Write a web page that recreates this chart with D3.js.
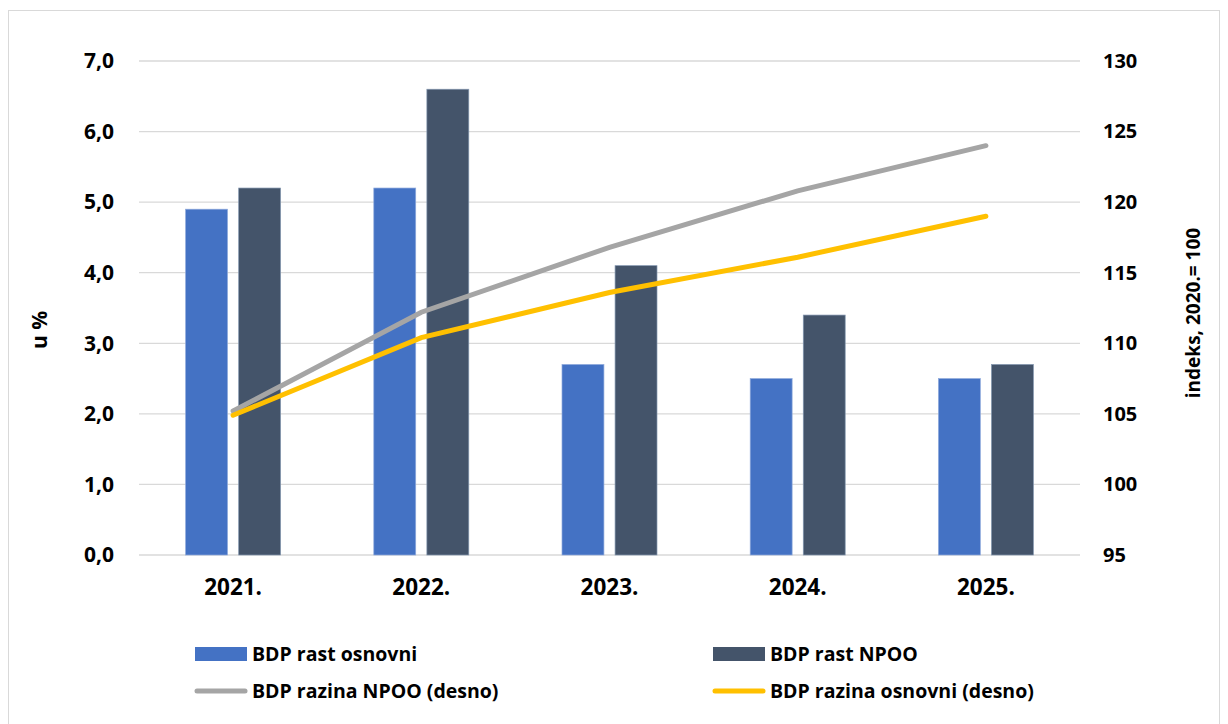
<!DOCTYPE html>
<html>
<head>
<meta charset="utf-8">
<script src="https://cdn.jsdelivr.net/npm/d3@7"></script>
<style>
  body { margin: 0; background: #fff; }
  text { font-family: "Open Sans", Lato, sans-serif; font-weight: bold; fill: #000; }
</style>
</head>
<body>
<div id="chart"></div>
<script>
let w = 1228,
    h = 724;

// data
let years = ["2021.", "2022.", "2023.", "2024.", "2025."];
let rastOsnovni = [4.9, 5.2, 2.7, 2.5, 2.5];
let rastNPOO = [5.2, 6.6, 4.1, 3.4, 2.7];
let razinaNPOO = [105.2, 112.2, 116.8, 120.8, 124.0];
let razinaOsnovni = [104.9, 110.4, 113.6, 116.1, 119.0];
let leftTicks = [0, 1, 2, 3, 4, 5, 6, 7];
let rightTicks = [95, 100, 105, 110, 115, 120, 125, 130];

let margin = { top: 61, bottom: 169, left: 139, right: 148 };
let width = w - margin.left - margin.right;
let height = h - margin.top - margin.bottom;

let svg = d3.select("#chart")
            .append("svg")
            .attr("width", w)
            .attr("height", h);

// outer border
svg.append("rect")
   .attr("x", 8.5).attr("y", 10.5)
   .attr("width", 1211).attr("height", 730)
   .attr("fill", "none")
   .attr("stroke", "#d9d9d9");

let g = svg.append("g")
           .attr("transform", "translate(" + margin.left + "," + margin.top + ")");

let x = d3.scaleBand().domain(years).range([0, width]);
let xInner = d3.scaleBand().domain(["osnovni", "npoo"]).range([0, 95]).paddingInner(0.21);
let yL = d3.scaleLinear().domain([0, 7]).range([height, 0]);
let yR = d3.scaleLinear().domain([95, 130]).range([height, 0]);

// gridlines
g.selectAll(".grid")
 .data(leftTicks)
 .enter()
 .append("line")
 .attr("x1", 0).attr("x2", width)
 .attr("y1", d => yL(d)).attr("y2", d => yL(d))
 .attr("stroke", "#d9d9d9")
 .attr("stroke-width", 1.3);

// left axis
let leftAxis = g.append("g")
  .call(d3.axisLeft(yL).tickValues(leftTicks).tickSize(0).tickPadding(25)
        .tickFormat(d => d3.format(".1f")(d).replace(".", ",")));
leftAxis.select(".domain").remove();
leftAxis.selectAll("text").style("font-size", "21px");

// right axis
let rightAxis = g.append("g")
  .attr("transform", "translate(" + width + ",0)")
  .call(d3.axisRight(yR).tickValues(rightTicks).tickSize(0).tickPadding(23));
rightAxis.select(".domain").remove();
rightAxis.selectAll("text").style("font-size", "20px");

// x axis labels
let xAxis = g.append("g")
  .attr("transform", "translate(0," + height + ")")
  .call(d3.axisBottom(x).tickSize(0).tickPadding(24));
xAxis.select(".domain").remove();
xAxis.selectAll("text").style("font-size", "22.5px");

// bars
let groups = g.selectAll(".year")
  .data(years)
  .enter()
  .append("g")
  .attr("transform", d => "translate(" + (x(d) + x.bandwidth() / 2 - 47.5) + ",0)");

groups.append("rect")
  .attr("x", xInner("osnovni"))
  .attr("y", (d, i) => yL(rastOsnovni[i]))
  .attr("width", xInner.bandwidth())
  .attr("height", (d, i) => height - yL(rastOsnovni[i]))
  .attr("fill", "#4472c4")
  .attr("stroke", "#8faadc")
  .attr("stroke-width", 0.7);

groups.append("rect")
  .attr("x", xInner("npoo"))
  .attr("y", (d, i) => yL(rastNPOO[i]))
  .attr("width", xInner.bandwidth())
  .attr("height", (d, i) => height - yL(rastNPOO[i]))
  .attr("fill", "#44546a")
  .attr("stroke", "#8497b0")
  .attr("stroke-width", 0.7);

// lines
let line = d3.line()
  .x((d, i) => x(years[i]) + x.bandwidth() / 2)
  .y(d => yR(d));

g.append("path")
 .datum(razinaNPOO)
 .attr("d", line)
 .attr("fill", "none")
 .attr("stroke", "#a5a5a5")
 .attr("stroke-width", 5)
 .attr("stroke-linecap", "round");

g.append("path")
 .datum(razinaOsnovni)
 .attr("d", line)
 .attr("fill", "none")
 .attr("stroke", "#ffc000")
 .attr("stroke-width", 5)
 .attr("stroke-linecap", "round");

// axis titles
svg.append("text")
   .attr("transform", "translate(47,330) rotate(-90)")
   .attr("text-anchor", "middle")
   .style("font-size", "21px")
   .text("u %");

svg.append("text")
   .attr("transform", "translate(1200,313) rotate(-90)")
   .attr("text-anchor", "middle")
   .style("font-size", "19px")
   .text("indeks, 2020.= 100");

// legend
let legendItems = [
  { label: "BDP rast osnovni", color: "#4472c4", type: "rect", x: 195, y: 654 },
  { label: "BDP rast NPOO", color: "#44546a", type: "rect", x: 713, y: 654 },
  { label: "BDP razina NPOO (desno)", color: "#a5a5a5", type: "line", x: 195, y: 691 },
  { label: "BDP razina osnovni (desno)", color: "#ffc000", type: "line", x: 713, y: 691 }
];

let legend = svg.selectAll(".legend")
  .data(legendItems)
  .enter()
  .append("g")
  .attr("transform", d => "translate(" + d.x + "," + d.y + ")");

legend.filter(d => d.type == "rect")
  .append("rect")
  .attr("x", 0).attr("y", -7)
  .attr("width", 52).attr("height", 14)
  .attr("fill", d => d.color);

legend.filter(d => d.type == "line")
  .append("line")
  .attr("x1", 2).attr("x2", 50)
  .attr("y1", 0).attr("y2", 0)
  .attr("stroke", d => d.color)
  .attr("stroke-width", 5)
  .attr("stroke-linecap", "round");

legend.append("text")
  .attr("x", 57)
  .attr("y", 0)
  .attr("dy", "0.35em")
  .style("font-size", "19.5px")
  .text(d => d.label);
</script>
</body>
</html>
